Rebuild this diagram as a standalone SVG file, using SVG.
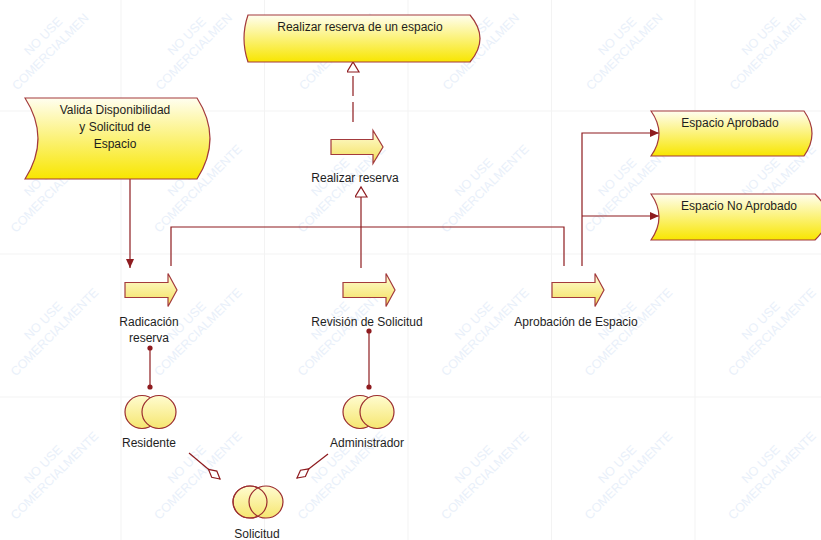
<svg xmlns="http://www.w3.org/2000/svg" width="821" height="540" viewBox="0 0 821 540">
<defs>
<style>
.grid{stroke:#f3f3f3;stroke-width:1;fill:none}
.wm{font-family:"Liberation Sans",Arial,sans-serif;font-size:12.5px;fill:#e9f0fa;text-anchor:middle}
.box{fill:url(#gBox);stroke:#a33a3c;stroke-width:1.2}
.arr{fill:url(#gArr);stroke:#a33a3c;stroke-width:1.2}
.role{fill:url(#gRole);stroke:#9b2d2f;stroke-width:1.2}
.lbl{font-family:"Liberation Sans",Arial,sans-serif;font-size:12px;fill:#1e1e1e;text-anchor:middle}
.con{fill:none;stroke:#8e1b1f;stroke-width:1.2}
.dot{fill:#8e1b1f}
</style>
<linearGradient id="gBox" x1="0" y1="0" x2="0" y2="1">
<stop offset="0" stop-color="#fffef0"/>
<stop offset="1" stop-color="#f8e600"/>
</linearGradient>
<linearGradient id="gArr" x1="0" y1="0" x2="0" y2="1">
<stop offset="0" stop-color="#fffdd8"/>
<stop offset="1" stop-color="#f3df58"/>
</linearGradient>
<linearGradient id="gRole" x1="0" y1="0" x2="0" y2="1">
<stop offset="0" stop-color="#fffcd0"/>
<stop offset="1" stop-color="#f6e670"/>
</linearGradient>
<marker id="mFill" markerUnits="userSpaceOnUse" markerWidth="10" markerHeight="8" refX="9" refY="4" orient="auto">
<path d="M0,0 L9,4 L0,8 z" fill="#8e1b1f"/>
</marker>
<marker id="mHollow" markerUnits="userSpaceOnUse" markerWidth="14" markerHeight="14" refX="11" refY="6.5" orient="auto">
<path d="M1,0.5 L11,6.5 L1,12.5 z" fill="#ffffff" stroke="#8e1b1f" stroke-width="1.2"/>
</marker>
<marker id="mDiamond" markerUnits="userSpaceOnUse" markerWidth="17" markerHeight="10" refX="16" refY="5" orient="auto">
<path d="M1,5 L8.5,1 L16,5 L8.5,9 z" fill="#ffffff" stroke="#8e1b1f" stroke-width="1.2"/>
</marker>
</defs>
<rect width="821" height="540" fill="#ffffff"/>
<g id="background">
<path class="grid" d="M121,0V540M264.5,0V540M408,0V540M551.5,0V540M695,0V540M0,111H821M0,254H821M0,397H821"/>
<g transform="translate(49,42) rotate(-45)"><text class="wm" y="-4">NO USE</text><text class="wm" x="-6" y="12">COMERCIALMEN</text></g>
<g transform="translate(192.5,42) rotate(-45)"><text class="wm" y="-4">NO USE</text><text class="wm" x="-6" y="12">COMERCIALMEN</text></g>
<g transform="translate(336,42) rotate(-45)"><text class="wm" y="-4">NO USE</text><text class="wm" x="-6" y="12">COMERCIALMEN</text></g>
<g transform="translate(479.5,42) rotate(-45)"><text class="wm" y="-4">NO USE</text><text class="wm" x="-6" y="12">COMERCIALMEN</text></g>
<g transform="translate(623,42) rotate(-45)"><text class="wm" y="-4">NO USE</text><text class="wm" x="-6" y="12">COMERCIALMEN</text></g>
<g transform="translate(766.5,42) rotate(-45)"><text class="wm" y="-4">NO USE</text><text class="wm" x="-6" y="12">COMERCIALMEN</text></g>
<g transform="translate(49,183) rotate(-45)"><text class="wm" y="-4">NO USE</text><text class="wm" y="12">COMERCIALMENTE</text></g>
<g transform="translate(192.5,183) rotate(-45)"><text class="wm" y="-4">NO USE</text><text class="wm" y="12">COMERCIALMENTE</text></g>
<g transform="translate(336,183) rotate(-45)"><text class="wm" y="-4">NO USE</text><text class="wm" y="12">COMERCIALMENTE</text></g>
<g transform="translate(479.5,183) rotate(-45)"><text class="wm" y="-4">NO USE</text><text class="wm" y="12">COMERCIALMENTE</text></g>
<g transform="translate(623,183) rotate(-45)"><text class="wm" y="-4">NO USE</text><text class="wm" y="12">COMERCIALMENTE</text></g>
<g transform="translate(766.5,183) rotate(-45)"><text class="wm" y="-4">NO USE</text><text class="wm" y="12">COMERCIALMENTE</text></g>
<g transform="translate(49,326.5) rotate(-45)"><text class="wm" y="-4">NO USE</text><text class="wm" y="12">COMERCIALMENTE</text></g>
<g transform="translate(192.5,326.5) rotate(-45)"><text class="wm" y="-4">NO USE</text><text class="wm" y="12">COMERCIALMENTE</text></g>
<g transform="translate(336,326.5) rotate(-45)"><text class="wm" y="-4">NO USE</text><text class="wm" y="12">COMERCIALMENTE</text></g>
<g transform="translate(479.5,326.5) rotate(-45)"><text class="wm" y="-4">NO USE</text><text class="wm" y="12">COMERCIALMENTE</text></g>
<g transform="translate(623,326.5) rotate(-45)"><text class="wm" y="-4">NO USE</text><text class="wm" y="12">COMERCIALMENTE</text></g>
<g transform="translate(766.5,326.5) rotate(-45)"><text class="wm" y="-4">NO USE</text><text class="wm" y="12">COMERCIALMENTE</text></g>
<g transform="translate(49,470) rotate(-45)"><text class="wm" y="-4">NO USE</text><text class="wm" y="12">COMERCIALMENTE</text></g>
<g transform="translate(192.5,470) rotate(-45)"><text class="wm" y="-4">NO USE</text><text class="wm" y="12">COMERCIALMENTE</text></g>
<g transform="translate(336,470) rotate(-45)"><text class="wm" y="-4">NO USE</text><text class="wm" y="12">COMERCIALMENTE</text></g>
<g transform="translate(479.5,470) rotate(-45)"><text class="wm" y="-4">NO USE</text><text class="wm" y="12">COMERCIALMENTE</text></g>
<g transform="translate(623,470) rotate(-45)"><text class="wm" y="-4">NO USE</text><text class="wm" y="12">COMERCIALMENTE</text></g>
<g transform="translate(766.5,470) rotate(-45)"><text class="wm" y="-4">NO USE</text><text class="wm" y="12">COMERCIALMENTE</text></g>
</g>
<g id="connectors">
<path class="con" d="M130,179 L130,268" marker-end="url(#mFill)"/>
<path class="con" d="M171,266 L171,227 L564,227 L564,266"/>
<path class="con" d="M582,266 L582,133 L659,133" marker-end="url(#mFill)"/>
<path class="con" d="M582,216 L659,216" marker-end="url(#mFill)"/>
<path class="con" d="M361,268 L361,187" marker-end="url(#mHollow)"/>
<path class="con" d="M353,122 L353,62" stroke-dasharray="20,6" marker-end="url(#mHollow)"/>
<path class="con" d="M150,348 L150,387"/>
<circle class="dot" cx="150" cy="348" r="2.6"/>
<circle class="dot" cx="150" cy="387" r="2.6"/>
<path class="con" d="M369,331 L369,387"/>
<circle class="dot" cx="369" cy="331" r="2.6"/>
<circle class="dot" cx="369" cy="387" r="2.6"/>
<path class="con" d="M189,453 L220,479" marker-end="url(#mDiamond)"/>
<path class="con" d="M328,454 L297,478" marker-end="url(#mDiamond)"/>
</g>
<g id="realizar-reserva-espacio">
<path class="box" d="M248,15 L470,15 Q490,38.5 470,62 L248,62 Q240,38.5 248,15 Z"/>
<text class="lbl" x="360" y="31">Realizar reserva de un espacio</text>
</g>
<g id="valida-disponibilidad">
<path class="box" d="M25,98 L197,98 Q223,138.5 197,179 L25,179 Q51,138.5 25,98 Z"/>
<text class="lbl" x="115" y="114">Valida Disponibilidad</text>
<text class="lbl" x="115" y="131">y Solicitud de</text>
<text class="lbl" x="115" y="148">Espacio</text>
</g>
<g id="espacio-aprobado">
<path class="box" d="M651,111 L804,111 Q820,133.5 804,156 L651,156 Q667,133.5 651,111 Z"/>
<text class="lbl" x="730" y="127">Espacio Aprobado</text>
</g>
<g id="espacio-no-aprobado">
<path class="box" d="M651,194 L815,194 Q839,217 815,240 L651,240 Q667,217 651,194 Z"/>
<text class="lbl" x="739" y="210">Espacio No Aprobado</text>
</g>
<g id="realizar-reserva">
<path class="arr" d="M331,139.5 L373,139.5 L373,130.5 L383,147 L373,163.5 L373,154.5 L331,154.5 Z"/>
<text class="lbl" x="355" y="182">Realizar reserva</text>
</g>
<g id="radicacion-reserva">
<path class="arr" d="M125,282.5 L168,282.5 L168,273.5 L177,290 L168,306.5 L168,297.5 L125,297.5 Z"/>
<text class="lbl" x="149" y="326">Radicación</text>
<text class="lbl" x="149" y="342">reserva</text>
</g>
<g id="revision-solicitud">
<path class="arr" d="M343,282.5 L386,282.5 L386,273.5 L395,290 L386,306.5 L386,297.5 L343,297.5 Z"/>
<text class="lbl" x="367" y="326">Revisión de Solicitud</text>
</g>
<g id="aprobacion-espacio">
<path class="arr" d="M552,282.5 L595,282.5 L595,273.5 L604,290 L595,306.5 L595,297.5 L552,297.5 Z"/>
<text class="lbl" x="576" y="326">Aprobación de Espacio</text>
</g>
<g id="residente">
<ellipse class="role" cx="142" cy="412" rx="17" ry="16.5"/>
<ellipse class="role" cx="159" cy="412" rx="17" ry="16.5"/>
<text class="lbl" x="149" y="447">Residente</text>
</g>
<g id="administrador">
<ellipse class="role" cx="360" cy="412" rx="17" ry="16.5"/>
<ellipse class="role" cx="377" cy="412" rx="17" ry="16.5"/>
<text class="lbl" x="367" y="447">Administrador</text>
</g>
<g id="solicitud">
<ellipse class="role" cx="250" cy="502" rx="17" ry="16"/>
<ellipse class="role" cx="266" cy="502" rx="17" ry="16"/>
<ellipse cx="250" cy="502" rx="17" ry="16" fill="none" stroke="#9b2d2f" stroke-width="1.2"/>
<text class="lbl" x="257" y="538">Solicitud</text>
</g>
</svg>
